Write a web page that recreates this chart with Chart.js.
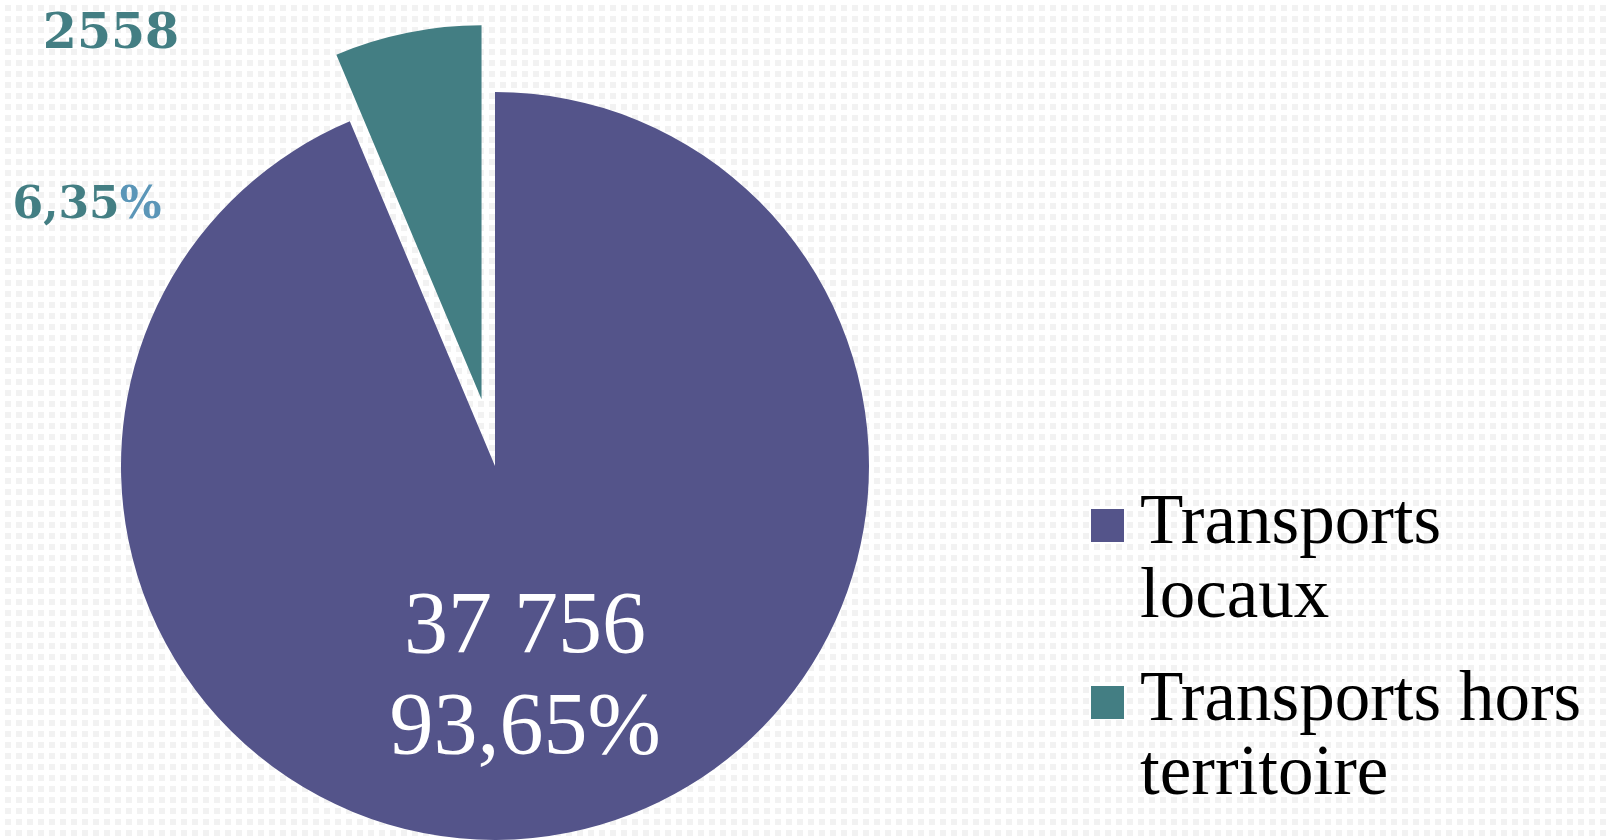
<!DOCTYPE html>
<html>
<head>
<meta charset="utf-8">
<script src="https://cdn.jsdelivr.net/npm/chart.js@4/dist/chart.umd.min.js"></script>
<style>
  html, body { margin: 0; padding: 0; overflow: hidden; }
  body {
    width: 1606px; height: 840px;
    background-color: #f2f2f2;
    background-image: linear-gradient(90deg, #fff 5px, transparent 5px), linear-gradient(#fff 5px, transparent 5px);
    background-size: 11px 11px;
  }
  #wrap { position: absolute; left: 0; top: 0; width: 1606px; height: 840px; }
</style>
</head>
<body>
<div id="wrap"><canvas id="pieChart"></canvas></div>
<script>
// data
const categories = [['Transports', 'locaux'], ['Transports hors', 'territoire']];
const values = [37756, 2558];
const valueTexts = ['37 756', '2558'];
const percentTexts = ['93,65%', '6,35%'];
const colors = ['#54548a', '#437e83'];
const explode = [0, 68]; // how far each slice is pulled out, px

// chart.js "offset" shrinks/grows the slice, so pull it out by hand instead
const explodePlugin = {
    id: 'explode',
    afterDatasetsUpdate(chart) {
        const arcs = chart.getDatasetMeta(0).data;
        arcs.forEach((arc, i) => {
            if (!explode[i]) return;
            const mid = (arc.startAngle + arc.endAngle) / 2;
            arc.x += Math.cos(mid) * explode[i];
            arc.y += Math.sin(mid) * explode[i];
        });
    }
};

// labels drawn by hand: big white one inside, bold teal ones outside, legend on the right
const labelPlugin = {
    id: 'pieLabels',
    afterDraw(chart) {
        const ctx = chart.ctx;
        const arcs = chart.getDatasetMeta(0).data;
        const cx = arcs[0].x, cy = arcs[0].y;
        ctx.save();

        // main slice labels
        const pos = arcs[0].tooltipPosition();
        ctx.fillStyle = '#ffffff';
        ctx.font = '88px "Liberation Serif", serif';
        ctx.textAlign = 'center';
        ctx.textBaseline = 'alphabetic';
        ctx.fillText(valueTexts[0], pos.x - 7, cy + 186);
        ctx.fillText(percentTexts[0], pos.x - 7, cy + 287);

        // small slice labels (outside, top left)
        ctx.font = 'bold 49px "DejaVu Serif", serif';
        ctx.fillStyle = colors[1];
        ctx.fillText(valueTexts[1], cx - 384, cy - 418);

        ctx.font = 'bold 44px "DejaVu Serif", serif';
        ctx.textAlign = 'left';
        const pct = percentTexts[1];
        const num = pct.slice(0, -1);
        const wNum = ctx.measureText(num).width;
        const wAll = ctx.measureText(pct).width;
        const x0 = cx - 408 - wAll / 2;
        ctx.fillText(num, x0, cy - 248);
        ctx.fillStyle = '#5b96b8';
        ctx.fillText('%', x0 + wNum, cy - 248);

        // legend
        const boxX = 1091, textX = 1140;
        const baselines = [[543, 617], [720, 794]];
        ctx.font = '71px "Liberation Serif", serif';
        ctx.textAlign = 'left';
        chart.data.labels.forEach((lines, i) => {
            ctx.fillStyle = colors[i];
            ctx.fillRect(boxX, baselines[i][0] - 34, 33, 33);
            ctx.fillStyle = '#000000';
            lines.forEach((line, j) => ctx.fillText(line, textX, baselines[i][j]));
        });
        ctx.restore();
    }
};

new Chart(document.getElementById('pieChart'), {
    type: 'pie',
    data: {
        labels: categories,
        datasets: [{
            data: values,
            backgroundColor: colors,
            borderWidth: 0,
            clip: false
        }]
    },
    options: {
        responsive: true,
        maintainAspectRatio: false,
        animation: false,
        radius: 374,
        layout: { padding: { top: 92, bottom: 0, left: 0, right: 616 } },
        plugins: {
            legend: { display: false },
            tooltip: { enabled: false }
        }
    },
    plugins: [explodePlugin, labelPlugin]
});
</script>
</body>
</html>
